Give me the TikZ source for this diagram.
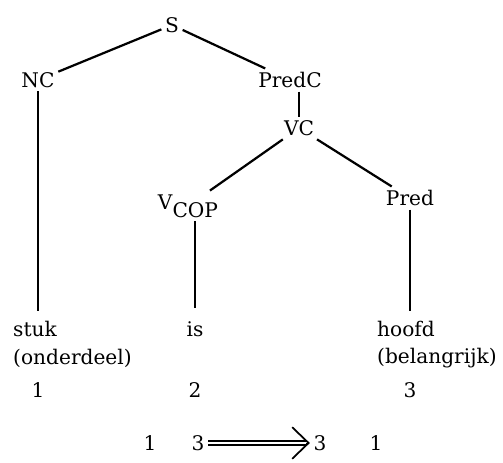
\documentclass[tikz,border=0pt]{standalone}
\usepackage{fontspec}
\setmainfont{DejaVu Serif}
\usetikzlibrary{arrows.meta}
\begin{document}
\begin{tikzpicture}[
        x=0.3mm, y=-0.3mm,
        every node/.style={font=\fontsize{17.2}{20}\selectfont, inner sep=3pt},
        word/.style={anchor=west, inner sep=0pt},
        branch/.style={line width=1.9pt},
        dblline/.style={double, double distance=2.4pt, line width=1.2pt, shorten >=3pt},
        chevron/.style={line width=0.6pt, -{Straight Barb[length=14pt, width=27pt, line width=1.5pt]}}
    ]
    \useasboundingbox (0,0) rectangle (503,463);
    % Nodes
    \node (s) at (172,25) {S};
    \node (nc) at (38,80) {NC};
    \node (predc) at (290,80) {PredC};
    \node (vc) at (299,128) {VC};
    \node (vcop) at (188,206) {\raisebox{0.5ex}{V}\raisebox{-0.3ex}{COP}};
    \node (pred) at (410,198) {Pred};

    \node[word] (stuk) at (13,329) {stuk};
    \node[word] (onderdeel) at (13,358) {(onderdeel)};
    \node (one) at (38,390) {1};
    \node (is) at (195,329) {is};
    \node (two) at (195,390) {2};
    \node[word] (hoofd) at (377,329) {hoofd};
    \node[word] (belangrijk) at (377,358) {(belangrijk)};
    \node (three) at (410,390) {3};

    \node (bone) at (150,443) {1};
    \node (bthree) at (198,443) {3};
    \node (athree) at (320,443) {3};
    \node (aone) at (376,443) {1};

    % Lines
    \draw [branch] (s) -- (nc);
    \draw [branch] (s) -- (predc);
    \draw [branch] (predc.south -| vc) -- (vc);
    \draw [branch] (vc) -- (vcop);
    \draw [branch] (vc) -- (pred);
    \draw [branch] (nc) -- ([yshift=3mm]nc |- stuk.north);
    \draw [branch] (vcop.south -| is) -- ([yshift=3mm]is.north);
    \draw [branch] (pred) -- ([yshift=3mm]pred |- hoofd.north);
    \draw [chevron] (bthree) -- (athree);
    \draw [dblline] (bthree) -- (athree);
\end{tikzpicture}
\end{document}
